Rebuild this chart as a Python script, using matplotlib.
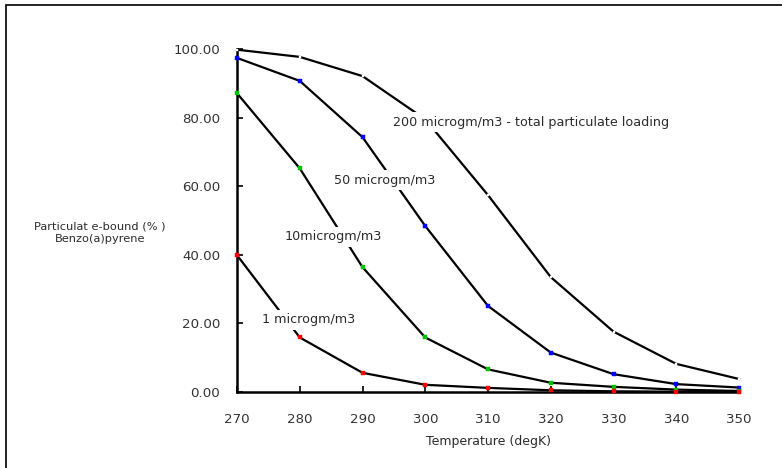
import matplotlib
matplotlib.use("Agg")
import matplotlib.pyplot as plt
from matplotlib.patches import Rectangle

plt.rcParams["font.family"] = ["DejaVu Sans"]

temps = [270, 280, 290, 300, 310, 320, 330, 340, 350]
load_1 = [39.9, 15.9, 5.6, 2.1, 1.2, 0.5, 0.2, 0.1, 0.05]
load_10 = [87.1, 65.2, 36.4, 15.9, 6.6, 2.7, 1.5, 0.7, 0.3]
load_50 = [97.4, 90.7, 74.3, 48.4, 25.1, 11.5, 5.2, 2.3, 1.3]
load_200 = [99.8, 97.7, 92.1, 79.5, 57.4, 33.5, 17.6, 8.2, 3.8]

series = [
    (load_200, "white", 1.6),
    (load_50, "#0000ff", 2.4),
    (load_10, "#00c000", 2.4),
    (load_1, "#ff0000", 2.4),
]

labels = [
    (294.9, 78.7, "200 microgm/m3 - total particulate loading"),
    (285.5, 61.8, "50 microgm/m3"),
    (277.5, 45.2, "10microgm/m3"),
    (274.0, 21.0, "1 microgm/m3"),
]

fig = plt.figure(figsize=(7.82, 4.68), dpi=100)
fig.patches.append(Rectangle((5.5 / 782, -0.05), 1.1, 1 - 5.5 / 468 + 0.05,
                             transform=fig.transFigure, fill=False,
                             edgecolor="black", linewidth=1.2))

ax = fig.add_axes([237 / 782, 1 - 392 / 468, (739 - 237) / 782, (392 - 49) / 468])

for vals, col, ms in series:
    ax.plot(temps, vals, color="black", linewidth=1.6, marker="s",
            markersize=ms, markerfacecolor=col, markeredgecolor=col,
            markeredgewidth=0.3, clip_on=False, zorder=3)

for x, y, txt in labels:
    ax.text(x, y, txt, fontsize=9.2, color="#2a2a2a", va="center", ha="left",
            zorder=5, bbox=dict(facecolor="white", edgecolor="none",
                                boxstyle="square,pad=0.25"))

ax.set_xlim(270, 350)
ax.set_ylim(0, 100)
ax.set_xticks(temps)
ax.set_yticks([0, 20, 40, 60, 80, 100])
ax.set_yticklabels([f"{v:.2f}" for v in [0, 20, 40, 60, 80, 100]])
ax.tick_params(direction="in", length=4, width=1.2, labelsize=9.6,
               labelcolor="#333333")
ax.tick_params(axis="y", pad=12)
ax.tick_params(axis="x", pad=15)
for s in ["top", "right"]:
    ax.spines[s].set_visible(False)
for s in ["left", "bottom"]:
    ax.spines[s].set_linewidth(1.8)

fig.text(488 / 782, 1 - 441 / 468, "Temperature (degK)", ha="center",
         va="center", fontsize=9, color="#2a2a2a")
fig.text(100 / 782, 1 - 233 / 468, "Particulat e-bound (% )\nBenzo(a)pyrene",
         ha="center", va="center", fontsize=8.2, color="#2a2a2a",
         linespacing=1.3)

fig.savefig("out.png", dpi=100)
